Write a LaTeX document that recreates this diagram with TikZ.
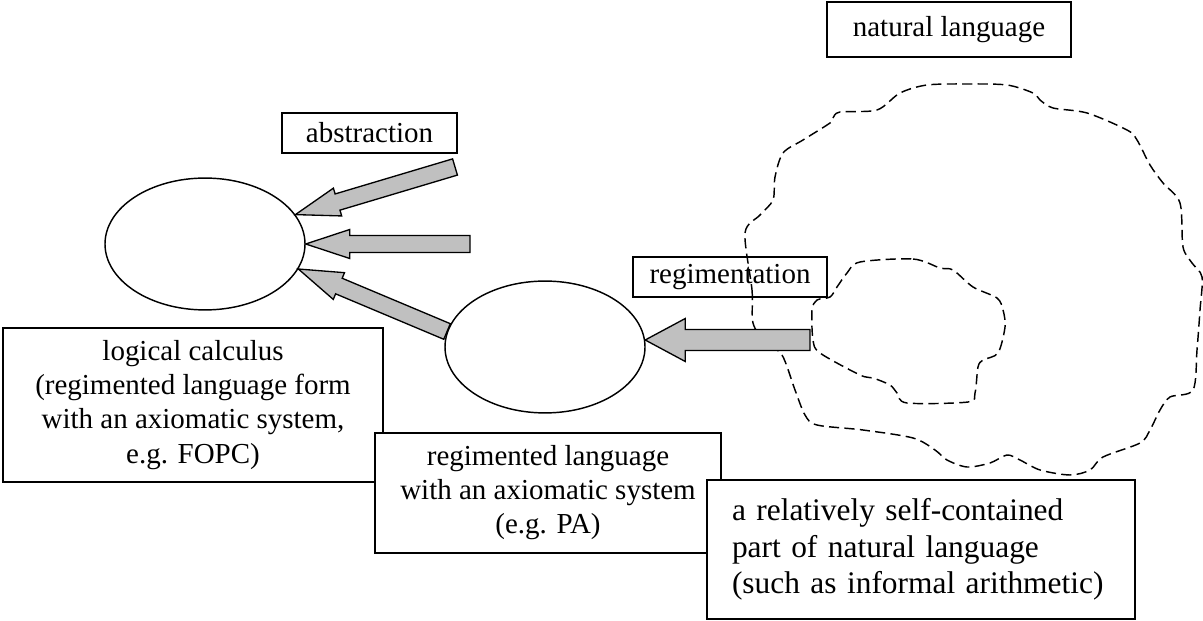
\documentclass[tikz,border=0pt]{standalone}
\usepackage{fontspec}
\setmainfont{Liberation Serif}
\usetikzlibrary{calc,shapes.geometric}
\definecolor{arrowgray}{HTML}{C0C0C0}
\tikzset{
  every picture/.style={line join=miter},
  labelbox/.style={draw, rectangle, line width=0.8pt, fill=white, inner sep=0pt, align=center, font=\fontsize{12}{14.1}\selectfont},
  blob/.style={draw, ellipse, line width=0.6pt, minimum width=82.8pt, minimum height=54.6pt, inner sep=0pt},
  natline/.style={line width=0.6pt, dash pattern=on 4.2pt off 2.2pt},
  fat arrow/.style={fill=arrowgray, draw=black, line width=0.55pt},
}
% tail, tip, body half width, head half width, head length
\newcommand{\fatarrow}[5]{%
  \coordinate (neck) at ($(#2)!#5!(#1)$);
  \filldraw[fat arrow] ($(#1)!#3!90:(#2)$) -- ($(neck)!#3!90:(#2)$) -- ($(neck)!#4!90:(#2)$) -- (#2)
    -- ($(neck)!#4!-90:(#2)$) -- ($(neck)!#3!-90:(#2)$) -- ($(#1)!#3!-90:(#2)$) -- cycle;
}
\begin{document}
\begin{tikzpicture}[x=0.414pt,y=-0.414pt]
\useasboundingbox (0,0) rectangle (1203,621);
% the two calculi
\node[blob] (logell) at (205,244) {};
\node[blob] (regell) at (545,347) {};
% labels
\node[labelbox, minimum width=101pt, minimum height=22.8pt] (natlang) at (949,29.5) {natural language};
\node[labelbox, minimum width=72.5pt, minimum height=16.6pt] (abstr) at (369.5,133) {abstraction};
\node[labelbox, minimum width=80.3pt, minimum height=16.6pt] (regim) at (730,277) {regimentation};
\node[labelbox, minimum width=157.3pt, minimum height=63.8pt] (logic) at (193,405)
  {logical calculus\\(regimented language form\\with an axiomatic system,\\e.g. FOPC)};
\node[labelbox, minimum width=143.2pt, minimum height=49.7pt] (regtext) at (548,493)
  {regimented language\\with an axiomatic system\\(e.g. PA)};
\node[labelbox, minimum width=177.2pt, minimum height=57.5pt, text width=156.5pt, align=left,
  inner xsep=10.35pt, font=\fontsize{13}{15.2}\selectfont] (part) at (921,549.5)
  {a relatively self-contained\\part of natural language\\(such as informal arithmetic)};
% natural language and its part
\draw[natline] plot[smooth cycle] coordinates {(745,233) (752,290) (753,323) (765,342) (782,355)
  (795,390) (805,415) (817,425) (863,430) (913,438) (935,450) (947,460) (967,467) (990,463)
  (1007,455) (1020,460) (1040,470) (1070,475) (1090,470) (1103,457) (1140,443) (1150,430)
  (1160,410) (1170,397) (1193,390) (1197,350) (1200,310) (1202,277) (1192,263) (1183,247)
  (1180,203) (1163,183) (1150,165) (1137,140) (1127,130) (1087,113) (1053,108) (1040,100)
  (1033,93) (1007,85) (967,84) (927,85) (900,93) (877,110) (840,112) (833,118) (830,123)
  (803,140) (783,153) (775,177) (773,200) (760,215)};
\draw[natline] plot[smooth cycle] coordinates {(860,262) (913,259) (940,268) (953,270) (973,287)
  (997,298) (1003,310) (1005,327) (998,353) (983,360) (978,367) (975,393) (968,402) (907,403)
  (897,393) (890,385) (873,378) (860,375) (820,353) (813,340) (812,310) (817,300) (830,297)
  (837,287) (847,273)};
% arrows
\coordinate (abstail1) at (455,167);
\coordinate (abstail2) at (470,244);
\coordinate (regtail) at (810,340);
\fatarrow{abstail1}{logell.18}{3.5pt}{6pt}{18.2pt}
\fatarrow{abstail2}{logell.east}{3.5pt}{6pt}{18.2pt}
\fatarrow{regell.171}{logell.-15}{3.5pt}{6pt}{18.2pt}
\fatarrow{regtail}{regell.4}{4.35pt}{8.9pt}{16.6pt}
\end{tikzpicture}
\end{document}
